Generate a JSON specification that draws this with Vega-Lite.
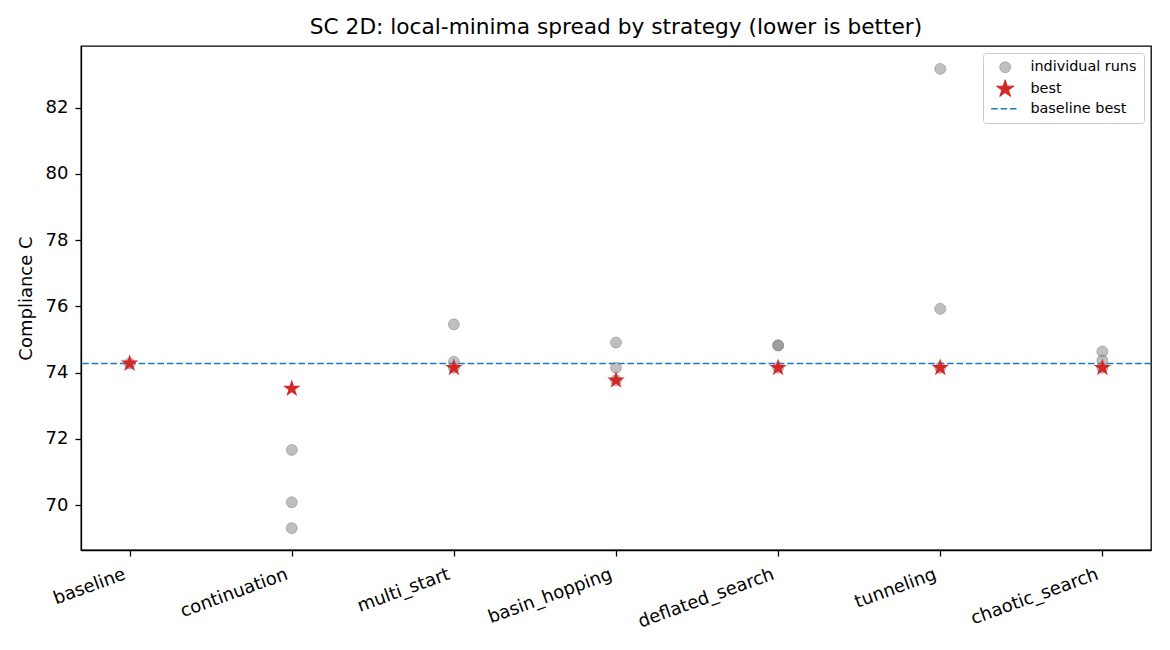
{
  "$schema": "https://vega.github.io/schema/vega-lite/v6.json",
  "autosize": "none",
  "width": 1070,
  "height": 504,
  "padding": {"left": 81, "top": 46, "right": 19, "bottom": 100},
  "background": "white",
  "config": {
    "font": "DejaVu Sans",
    "view": {"stroke": "black", "strokeWidth": 1.3},
    "axis": {
      "grid": false,
      "domainColor": "black",
      "domainWidth": 1.3,
      "tickColor": "black",
      "tickWidth": 1.3,
      "tickSize": 6,
      "labelColor": "black",
      "labelFont": "DejaVu Sans",
      "labelFontSize": 18,
      "titleFont": "DejaVu Sans",
      "titleFontSize": 18,
      "titleFontWeight": "normal",
      "titleColor": "black"
    }
  },
  "title": {
    "text": "SC 2D: local-minima spread by strategy (lower is better)",
    "font": "DejaVu Sans",
    "fontSize": 21.7,
    "fontWeight": "normal",
    "color": "black",
    "anchor": "middle",
    "frame": "group",
    "baseline": "bottom",
    "offset": 6,
    "dy": 21
  },
  "data": {
    "values": [
      {"strategy": "baseline", "C": 74.28, "series": "individual runs"},
      {"strategy": "continuation", "C": 71.67, "series": "individual runs"},
      {"strategy": "continuation", "C": 70.09, "series": "individual runs"},
      {"strategy": "continuation", "C": 69.31, "series": "individual runs"},
      {"strategy": "multi_start", "C": 75.46, "series": "individual runs"},
      {"strategy": "multi_start", "C": 74.33, "series": "individual runs"},
      {"strategy": "multi_start", "C": 74.15, "series": "individual runs"},
      {"strategy": "basin_hopping", "C": 74.91, "series": "individual runs"},
      {"strategy": "basin_hopping", "C": 74.15, "series": "individual runs"},
      {"strategy": "basin_hopping", "C": 73.77, "series": "individual runs"},
      {"strategy": "deflated_search", "C": 74.83, "series": "individual runs"},
      {"strategy": "deflated_search", "C": 74.82, "series": "individual runs"},
      {"strategy": "deflated_search", "C": 74.15, "series": "individual runs"},
      {"strategy": "tunneling", "C": 83.17, "series": "individual runs"},
      {"strategy": "tunneling", "C": 75.93, "series": "individual runs"},
      {"strategy": "tunneling", "C": 74.15, "series": "individual runs"},
      {"strategy": "chaotic_search", "C": 74.64, "series": "individual runs"},
      {"strategy": "chaotic_search", "C": 74.37, "series": "individual runs"},
      {"strategy": "chaotic_search", "C": 74.15, "series": "individual runs"},
      {"strategy": "baseline", "C": 74.28, "series": "best"},
      {"strategy": "continuation", "C": 73.52, "series": "best"},
      {"strategy": "multi_start", "C": 74.15, "series": "best"},
      {"strategy": "basin_hopping", "C": 73.77, "series": "best"},
      {"strategy": "deflated_search", "C": 74.15, "series": "best"},
      {"strategy": "tunneling", "C": 74.15, "series": "best"},
      {"strategy": "chaotic_search", "C": 74.15, "series": "best"},
      {"strategy": "baseline", "C": 74.28, "series": "baseline best"}
    ]
  },
  "encoding": {
    "y": {
      "field": "C",
      "type": "quantitative",
      "title": "Compliance C",
      "scale": {"domain": [68.65, 83.86], "nice": false, "zero": false},
      "axis": {"values": [70, 72, 74, 76, 78, 80, 82], "labelPadding": 7, "titlePadding": 10}
    },
    "color": {
      "field": "series",
      "type": "nominal",
      "title": null,
      "scale": {
        "domain": ["individual runs", "best", "baseline best"],
        "range": ["#808080", "#d62728", "#1f77b4"]
      },
      "legend": {
        "orient": "top-right",
        "offset": 7,
        "padding": 7,
        "rowPadding": 1.8,
        "symbolSize": 400,
        "symbolOffset": 8,
        "labelOffset": 18,
        "labelFont": "DejaVu Sans",
        "labelFontSize": 14.4,
        "labelColor": "black",
        "strokeColor": "#cccccc",
        "fillColor": "rgba(255,255,255,0.8)",
        "cornerRadius": 3,
        "encode": {
          "symbols": {
            "update": {
              "shape": {"signal": "datum.value === 'best' ? 'M0,-1L0.2245,-0.309L0.9511,-0.309L0.3633,0.118L0.5878,0.809L0,0.382L-0.5878,0.809L-0.3633,0.118L-0.9511,-0.309L-0.2245,-0.309Z' : datum.value === 'baseline best' ? 'stroke' : 'circle'"},
              "size": {"signal": "datum.value === 'best' ? 340 : datum.value === 'baseline best' ? 784 : 120"},
              "fill": {"signal": "datum.value === 'individual runs' ? '#808080' : datum.value === 'best' ? '#d62728' : 'transparent'"},
              "fillOpacity": {"signal": "datum.value === 'individual runs' ? 0.5 : 1"},
              "stroke": {"signal": "datum.value === 'individual runs' ? '#808080' : datum.value === 'best' ? '#d62728' : '#1f77b4'"},
              "strokeOpacity": {"signal": "datum.value === 'individual runs' ? 0.5 : 1"},
              "strokeWidth": {"signal": "datum.value === 'baseline best' ? 1.4 : 1"},
              "strokeDash": {"signal": "datum.value === 'baseline best' ? [6.5, 2.9] : []"},
              "opacity": {"value": 1}
            }
          }
        }
      }
    }
  },
  "layer": [
    {
      "transform": [{"filter": "datum.series === 'baseline best'"}],
      "mark": {"type": "rule", "strokeWidth": 1.4, "strokeDash": [6.5, 2.9]},
      "encoding": {}
    },
    {
      "transform": [{"filter": "datum.series === 'individual runs'"}],
      "mark": {
        "type": "point",
        "shape": "circle",
        "filled": true,
        "size": 120,
        "opacity": 1,
        "fillOpacity": 0.5,
        "stroke": "#808080",
        "strokeOpacity": 0.5,
        "strokeWidth": 1
      },
      "encoding": {
        "x": {
          "field": "strategy",
          "type": "nominal",
          "sort": null,
          "title": null,
          "scale": {
            "type": "point",
            "padding": 0.3,
            "domain": ["baseline", "continuation", "multi_start", "basin_hopping", "deflated_search", "tunneling", "chaotic_search"]
          },
          "axis": {"labelAngle": -20, "labelAlign": "right", "labelBaseline": "bottom", "labelPadding": 26, "labelOffset": -2}
        }
      }
    },
    {
      "transform": [{"filter": "datum.series === 'best'"}],
      "mark": {
        "type": "point",
        "shape": "M0,-1L0.2245,-0.309L0.9511,-0.309L0.3633,0.118L0.5878,0.809L0,0.382L-0.5878,0.809L-0.3633,0.118L-0.9511,-0.309L-0.2245,-0.309Z",
        "filled": true,
        "size": 340,
        "opacity": 1,
        "strokeWidth": 0.8
      },
      "encoding": {
        "x": {"field": "strategy", "type": "nominal", "sort": null}
      }
    }
  ]
}
